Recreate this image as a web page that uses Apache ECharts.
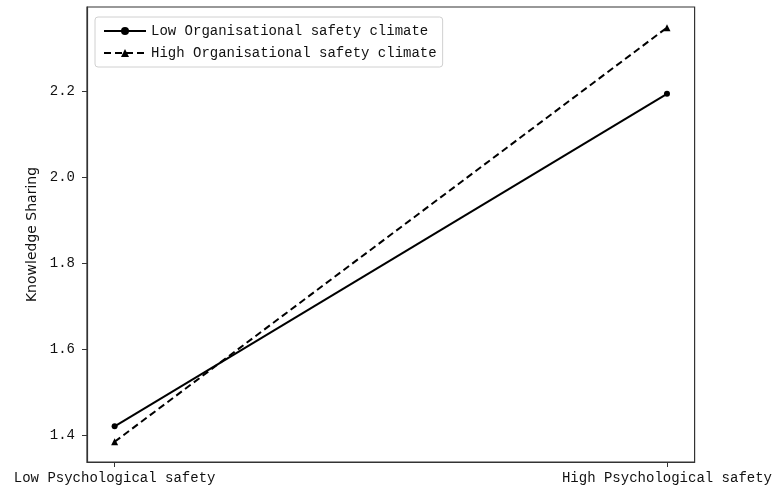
<!DOCTYPE html>
<html>
<head>
<meta charset="utf-8">
<script src="https://cdn.jsdelivr.net/npm/echarts@6/dist/echarts.min.js"></script>
<style>html,body{margin:0;padding:0;background:#fff;}#c{width:775px;height:490px;}</style>
</head>
<body>
<div id="c"></div>
<script>
var xPositions = [0, 1];
var xLabels = ['Low Psychological safety', 'High Psychological safety'];
var seriesNames = ['Low Organisational safety climate', 'High Organisational safety climate'];
var lowClimate = [1.420, 2.193];
var highClimate = [1.384, 2.347];
var yTicks = [1.4, 1.6, 1.8, 2.0, 2.2];

function pairs(vals) { return xPositions.map(function (x, i) { return [x, vals[i]]; }); }

var chart = echarts.init(document.getElementById('c'), null, { renderer: 'canvas' });
chart.setOption({
  animation: false,
  backgroundColor: '#fff',
  grid: { left: 87, right: 79, top: 7, bottom: 28, show: true, borderColor: '#333', borderWidth: 1.2, containLabel: false },
  legend: {
    orient: 'vertical', left: 95, top: 17,
    padding: [7, 6, 7, 8], itemGap: 8, itemWidth: 42, itemHeight: 10,
    borderColor: '#d0d0d0', borderWidth: 1, borderRadius: 3, backgroundColor: '#fff',
    textStyle: { fontFamily: 'Liberation Mono', fontSize: 14, color: '#111' },
    data: seriesNames
  },
  xAxis: {
    type: 'value', min: -0.05, max: 1.05,
    splitLine: { show: false },
    axisLine: { show: true, onZero: false, lineStyle: { color: '#333', width: 1.2 } },
    axisTick: { show: true, customValues: xPositions, length: 5, lineStyle: { color: '#333' } },
    axisLabel: {
      customValues: xPositions, margin: 9,
      fontFamily: 'Liberation Mono', fontSize: 14, color: '#111',
      formatter: function (v) { return xLabels[Math.round(v)]; }
    }
  },
  yAxis: {
    type: 'value', min: 1.337, max: 2.395,
    name: 'Knowledge Sharing', nameLocation: 'middle', nameGap: 47,
    nameTextStyle: { fontFamily: 'DejaVu Sans', fontSize: 14, color: '#111' },
    splitLine: { show: false },
    axisLine: { show: true, onZero: false, lineStyle: { color: '#333', width: 1.2 } },
    axisTick: { show: true, customValues: yTicks, length: 5, lineStyle: { color: '#333' } },
    axisLabel: {
      customValues: yTicks, margin: 12,
      fontFamily: 'Liberation Mono', fontSize: 14, color: '#111',
      formatter: function (v) { return v.toFixed(1); }
    }
  },
  series: [
    {
      name: seriesNames[0], type: 'line', data: pairs(lowClimate),
      symbol: 'circle', symbolSize: 6,
      lineStyle: { color: '#000', width: 2, type: 'solid' },
      itemStyle: { color: '#000' }
    },
    {
      name: seriesNames[1], type: 'line', data: pairs(highClimate),
      symbol: 'triangle', symbolSize: 7,
      lineStyle: { color: '#000', width: 2, type: [7, 4] },
      itemStyle: { color: '#000' }
    }
  ]
});
</script>
</body>
</html>
